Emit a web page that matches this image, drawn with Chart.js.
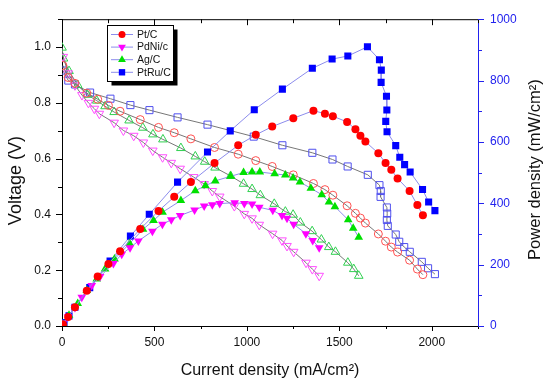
<!DOCTYPE html>
<html>
<head>
<meta charset="utf-8">
<script src="https://cdn.jsdelivr.net/npm/chart.js@4.4.1/dist/chart.umd.min.js"></script>
<style>
  html, body { margin: 0; padding: 0; background: #fff; }
  #wrap { width: 550px; height: 386px; position: relative; }
</style>
</head>
<body>
<div id="wrap"><canvas id="c" width="550" height="386"></canvas></div>
<script>
// ---------- data ----------
const seriesNames = ["Pt/C", "PdNi/c", "Ag/C", "PtRu/C"];

// Pt/C
const ptcCurrent = [5,33,70,134,193,251,314,423,522,607,697,825,953,1048,1137,1251,1360,1422,1465,1542,1587,1614,1641,1711,1750,1781,1815,1880,1922,1952];
const ptcVoltage = [0.934,0.891,0.870,0.835,0.813,0.791,0.770,0.740,0.712,0.693,0.671,0.640,0.616,0.593,0.572,0.542,0.511,0.489,0.469,0.431,0.404,0.387,0.369,0.330,0.304,0.283,0.265,0.236,0.204,0.184];
const ptcPower   = [5,29,61,115,161,202,244,316,375,421,469,531,589,623,650,677,702,692,684,665,641,620,601,563,531,509,481,440,394,361];

// PdNi/c
const pdniCurrentV = [7,33,70,108,143,175,202,282,332,388,440,491,544,591,639,712,769,813,853,932,986,1028,1067,1139,1190,1217,1253,1320,1354,1391];
const pdniVoltage  = [0.965,0.906,0.863,0.828,0.800,0.779,0.761,0.729,0.701,0.682,0.658,0.629,0.605,0.585,0.564,0.534,0.509,0.484,0.464,0.430,0.402,0.386,0.363,0.331,0.307,0.287,0.266,0.227,0.204,0.180];
const pdniCurrentP = [5,33,70,107,161,206,278,323,368,413,489,543,591,639,717,769,813,853,934,986,1028,1067,1140,1190,1217,1253,1319,1356,1391];
const pdniPower    = [10,30,60,94,132,161,204,234,255,277,309,332,346,360,378,391,395,399,402,399,398,387,377,360,351,332,301,279,255];

// Ag/C
const agCurrentV = [0,8,38,85,137,188,233,282,363,437,492,546,643,721,772,828,912,982,1028,1073,1148,1208,1250,1289,1353,1403,1443,1479,1546,1578,1605];
const agVoltage  = [0.998,0.959,0.914,0.864,0.829,0.808,0.788,0.767,0.737,0.711,0.687,0.669,0.638,0.608,0.589,0.568,0.538,0.510,0.491,0.469,0.438,0.410,0.399,0.371,0.340,0.310,0.283,0.266,0.227,0.204,0.180];
const agCurrentP = [7,38,85,134,188,233,284,366,438,495,544,643,721,776,829,912,982,1028,1070,1150,1208,1250,1287,1346,1405,1444,1476,1548,1575,1605];
const agPower    = [6,35,73,116,153,186,218,269,315,344,371,409,441,457,473,488,500,502,502,496,492,482,469,449,428,404,389,346,319,289];

// PtRu/C
const ptruCurrentV = [5,34,70,152,262,370,473,625,787,1037,1192,1354,1463,1545,1654,1717,1724,1723,1757,1759,1757,1762,1805,1824,1851,1881,1946,1980,2017];
const ptruVoltage  = [0.916,0.880,0.866,0.837,0.815,0.792,0.774,0.748,0.722,0.679,0.648,0.621,0.597,0.572,0.542,0.505,0.484,0.463,0.425,0.403,0.380,0.359,0.328,0.302,0.283,0.266,0.230,0.207,0.186];
const ptruCurrentP = [11,38,70,150,260,370,472,625,787,910,1040,1192,1354,1461,1546,1652,1717,1727,1726,1755,1757,1751,1758,1805,1827,1853,1883,1950,1983,2017];
const ptruPower    = [11,33,61,125,212,293,364,469,567,636,705,772,840,870,880,910,868,834,794,749,704,667,633,588,550,526,502,445,404,376];

// axes
const xTicks  = [0, 500, 1000, 1500, 2000];
const yTicks  = [0.0, 0.2, 0.4, 0.6, 0.8, 1.0];
const y1Ticks = [0, 200, 400, 600, 800, 1000];
const xTitle  = "Current density (mA/cm²)";
const yTitle  = "Voltage (V)";
const y1Title = "Power density (mW/cm²)";

// ---------- styling ----------
const FONT = "'Liberation Sans', Arial, Helvetica, sans-serif";
const filledColors = ["#ff0000", "#ff00ff", "#00e000", "#0000ff"];
const openColors   = ["#ff5050", "#ff50ff", "#30d050", "#5050ee"];
const styles   = ["circle", "triangle", "triangle", "rect"];
const rotations = [0, 180, 0, 0];
const radii    = [4, 5, 5, 5];
const vLine = "#777777";
const pLine = "#8c8cec";
const axisBlue = "#2222ee";

const zip = (xs, ys) => xs.map((x, i) => ({ x: x, y: ys[i] }));

const vSets = [
  zip(ptcCurrent, ptcVoltage),
  zip(pdniCurrentV, pdniVoltage),
  zip(agCurrentV, agVoltage),
  zip(ptruCurrentV, ptruVoltage)
];
const pSets = [
  zip(ptcCurrent, ptcPower),
  zip(pdniCurrentP, pdniPower),
  zip(agCurrentP, agPower),
  zip(ptruCurrentP, ptruPower)
];

const datasets = [];
vSets.forEach((d, i) => datasets.push({
  label: seriesNames[i] + " V", data: d, yAxisID: "y", order: 2,
  borderColor: vLine, borderWidth: 1,
  pointStyle: styles[i], pointRotation: rotations[i], pointRadius: radii[i],
  pointBorderColor: openColors[i], pointBackgroundColor: "rgba(255,255,255,0)", pointBorderWidth: 1,
  tension: 0
}));
pSets.forEach((d, i) => datasets.push({
  label: seriesNames[i], data: d, yAxisID: "y1", order: 1,
  borderColor: pLine, borderWidth: 1,
  pointStyle: styles[i], pointRotation: rotations[i], pointRadius: radii[i],
  pointBorderColor: filledColors[i], pointBackgroundColor: filledColors[i], pointBorderWidth: 0,
  tension: 0
}));

function drawMarker(ctx, style, rot, r, x, y, color) {
  ctx.save();
  ctx.fillStyle = color;
  ctx.beginPath();
  if (style === "circle") {
    ctx.arc(x, y, r, 0, Math.PI * 2);
  } else if (style === "rect") {
    const s = Math.SQRT1_2 * r;
    ctx.rect(x - s, y - s, 2 * s, 2 * s);
  } else {
    let rad = rot * Math.PI / 180;
    for (let k = 0; k < 3; k++) {
      const px = x + Math.sin(rad) * r, py = y - Math.cos(rad) * r;
      if (k === 0) ctx.moveTo(px, py); else ctx.lineTo(px, py);
      rad += 2 * Math.PI / 3;
    }
    ctx.closePath();
  }
  ctx.fill();
  ctx.restore();
}

function drawVerticalTitle(ctx, text, baselineX, centerY, size) {
  ctx.save();
  ctx.translate(baselineX, centerY);
  ctx.rotate(-Math.PI / 2);
  ctx.font = size + "px " + FONT;
  ctx.fillStyle = "#111";
  ctx.textAlign = "center";
  ctx.textBaseline = "alphabetic";
  ctx.fillText(text, 0, 0);
  ctx.restore();
}

const decor = {
  id: "decor",
  afterDraw(chart) {
    const ctx = chart.ctx;
    const a = chart.chartArea;
    const xs = chart.scales.x, ys = chart.scales.y, y1 = chart.scales.y1;
    ctx.save();
    ctx.lineWidth = 1;
    // top border
    ctx.strokeStyle = "#000";
    ctx.beginPath();
    ctx.moveTo(a.left, a.top + 0.5); ctx.lineTo(a.right, a.top + 0.5);
    ctx.stroke();
    // x ticks (bottom outward, top inward)
    ctx.beginPath();
    for (let v = 0; v <= xs.max + 1e-6; v += 250) {
      const px = Math.round(xs.getPixelForValue(v)) + 0.5;
      const major = v % 500 === 0;
      ctx.moveTo(px, a.bottom); ctx.lineTo(px, a.bottom + (major ? 5 : 3));
      ctx.moveTo(px, a.top); ctx.lineTo(px, a.top + (major ? 6 : 4));
    }
    // left y ticks
    for (let k = 0; k <= 11; k++) {
      const py = Math.round(ys.getPixelForValue(k / 10)) + 0.5;
      const major = k % 2 === 0;
      ctx.moveTo(a.left, py); ctx.lineTo(a.left - (major ? 6 : 4), py);
    }
    ctx.stroke();
    // right y ticks (blue)
    ctx.strokeStyle = axisBlue;
    ctx.beginPath();
    for (let v = 0; v <= 1000; v += 100) {
      const py = Math.round(y1.getPixelForValue(v)) + 0.5;
      const major = v % 200 === 0;
      ctx.moveTo(a.right, py); ctx.lineTo(a.right + (major ? 6 : 4), py);
    }
    ctx.stroke();

    // vertical axis titles (both read bottom-to-top)
    drawVerticalTitle(ctx, yTitle, 21, (a.top + a.bottom) / 2 + 8, 18);
    drawVerticalTitle(ctx, y1Title, 540, (a.top + a.bottom) / 2 - 3, 16.5);

    // legend box with shadow
    const lx = 107, ly = 25, lw = 66, lh = 56, sh = 4.5;
    ctx.fillStyle = "#000";
    ctx.fillRect(lx + sh, ly + sh, lw, lh);
    ctx.fillStyle = "#fff";
    ctx.fillRect(lx, ly, lw, lh);
    ctx.strokeStyle = "#000";
    ctx.strokeRect(lx + 0.5, ly + 0.5, lw, lh);
    ctx.font = "10.5px " + FONT;
    ctx.textBaseline = "middle";
    ctx.textAlign = "left";
    seriesNames.forEach((name, i) => {
      const cy = ly + 9.5 + i * 12.6;
      ctx.strokeStyle = pLine;
      ctx.beginPath();
      ctx.moveTo(lx + 4, cy); ctx.lineTo(lx + 26, cy);
      ctx.stroke();
      drawMarker(ctx, styles[i], rotations[i], radii[i] - 0.5, lx + 15, cy, filledColors[i]);
      ctx.fillStyle = "#111";
      ctx.fillText(name, lx + 30, cy + 0.5);
    });
    ctx.restore();
  }
};

new Chart(document.getElementById("c"), {
  type: "line",
  data: { datasets: datasets },
  plugins: [decor],
  options: {
    responsive: false,
    animation: false,
    layout: { padding: { top: 15, left: 0, right: 0, bottom: 0 } },
    plugins: { legend: { display: false }, tooltip: { enabled: false } },
    elements: { line: { fill: false } },
    scales: {
      x: {
        type: "linear", position: "bottom", min: 0, max: 2250,
        afterBuildTicks: s => { s.ticks = xTicks.map(v => ({ value: v })); },
        afterFit: s => { s.height = 60; },
        grid: { display: false, drawTicks: false },
        border: { display: true, color: "#000", width: 1 },
        ticks: { padding: 9, color: "#111", font: { size: 12, family: FONT }, maxRotation: 0, callback: v => String(v) },
        title: { display: true, text: xTitle, color: "#111", font: { size: 16, family: FONT }, padding: { top: 4, bottom: 6 } }
      },
      y: {
        type: "linear", position: "left", min: 0, max: 1.1,
        afterBuildTicks: s => { s.ticks = yTicks.map(v => ({ value: v })); },
        afterFit: s => { s.width = 62; },
        grid: { display: false, drawTicks: false },
        border: { display: true, color: "#000", width: 1 },
        ticks: { padding: 11, color: "#111", font: { size: 12, family: FONT }, callback: v => Number(v).toFixed(1) },
        title: { display: false }
      },
      y1: {
        type: "linear", position: "right", min: 0, max: 1000,
        afterBuildTicks: s => { s.ticks = y1Ticks.map(v => ({ value: v })); },
        afterFit: s => { s.width = 72; },
        grid: { display: false, drawTicks: false },
        border: { display: true, color: axisBlue, width: 1 },
        ticks: { padding: 12, color: axisBlue, font: { size: 12, family: FONT }, callback: v => String(v) },
        title: { display: false }
      }
    }
  }
});
</script>
</body>
</html>
